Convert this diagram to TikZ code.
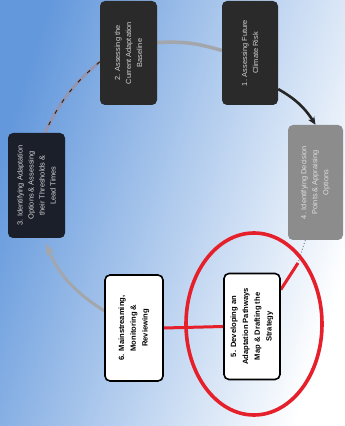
\documentclass[tikz,border=0pt]{standalone}
\usepackage{fontspec}
\setmainfont{Liberation Sans}
\usepackage{graphicx}
\usetikzlibrary{arrows.meta}
\definecolor{bgL}{HTML}{6398DC}
\definecolor{bgM}{HTML}{C8E1F6}
\definecolor{boxdark}{HTML}{2A2A2A}
\definecolor{boxnavy}{HTML}{1B1F29}
\definecolor{boxgray}{HTML}{8C8C8C}
\definecolor{boxtxt}{HTML}{D2D2D2}
\definecolor{arcgray}{HTML}{A3A6AA}
\definecolor{annred}{HTML}{E5202B}
\newcommand\rtext[2]{\rotatebox{90}{\parbox{#1}{\centering #2}}}
\pgfdeclarelayer{bgfill}
\pgfdeclarelayer{conn}
\pgfsetlayers{bgfill,conn,main}
\begin{document}
\begin{tikzpicture}[x=1pt,y=1pt,
  stepboxdark/.style={rounded corners=5pt, fill=boxdark, text=boxtxt, inner sep=0pt,
    minimum width=56pt, minimum height=104pt, font=\fontsize{7.4}{11}\selectfont},
  stepboxwhite/.style={rounded corners=5pt, fill=white, draw=black, line width=1.6pt, text=black,
    inner sep=0pt, minimum width=56pt, minimum height=106pt, font=\bfseries\fontsize{7.6}{11.8}\selectfont},
  arcline/.style={draw=arcgray, line width=3.5pt},
  redline/.style={draw=annred, line width=3pt}]
\useasboundingbox (0,0) rectangle (345,426);
\begin{pgfonlayer}{bgfill}
\shade[left color=bgL, middle color=bgM, right color=white, shading angle=72] (0,0) rectangle (345,426);
\end{pgfonlayer}

% nodes
\node[stepboxdark] (b1) at (250,373) {\rtext{96pt}{1. Assessing Future\\Climate Risk}};
\node[stepboxdark, minimum width=57pt] (b2) at (128.5,373) {\rtext{96pt}{2. Assessing the\\Current Adaptation\\Baseline}};
\node[stepboxdark, fill=boxnavy, minimum width=57pt, minimum height=105pt] (b3) at (36.5,240.5)
  {\rtext{98pt}{3. Identifying Adaptation\\Options \& Assessing\\their Thresholds \&\\Lead Times}};
\node[stepboxdark, fill=boxgray, text=boxtxt!70!white, minimum width=55pt, minimum height=115pt] (b4) at (315.5,243.5)
  {\rtext{104pt}{4. Identifying Decision\\Points \& Appraising\\Options}};
\node[stepboxwhite] (b5) at (252,99.5) {\rtext{100pt}{5. Developing an\\Adaptation Pathways\\Map \& Drafting the\\Strategy}};
\node[stepboxwhite, minimum width=58pt] (b6) at (134,98) {\rtext{100pt}{6. Mainstreaming,\\Monitoring \&\\Reviewing}};
\coordinate (m45) at (298,163);

% connectors
\begin{pgfonlayer}{conn}
\draw[arcline] (b1.175) to[bend right=10] (b2.20);
\draw[arcline, draw=arcgray!90!blue, line width=3pt,
      postaction={draw=black!75!brown, line width=1pt, dash pattern=on 4pt off 9pt}]
  (b2.197) to[bend right=12] (b3.81);
\draw[arcline, line width=3pt, -{Stealth[length=11pt,width=9pt,fill=arcgray!80!brown]}, shorten >=6pt]
  (b6.150) to[bend left=18] (b3.278);
\draw[line width=2.6pt, black!85, -{Stealth[length=8pt,width=7pt]}] (b1.308) to[bend left=14] (b4.north);
\draw[black!45, line width=1pt, dotted] (b4.260) -- (m45);
\draw[redline] (m45) -- (b5.52);
\draw[redline] (b6.east) -- (b5.west);
\draw[annred, line width=3.6pt] (254,102) ellipse [x radius=68, y radius=91];
\end{pgfonlayer}
\end{tikzpicture}
\end{document}
